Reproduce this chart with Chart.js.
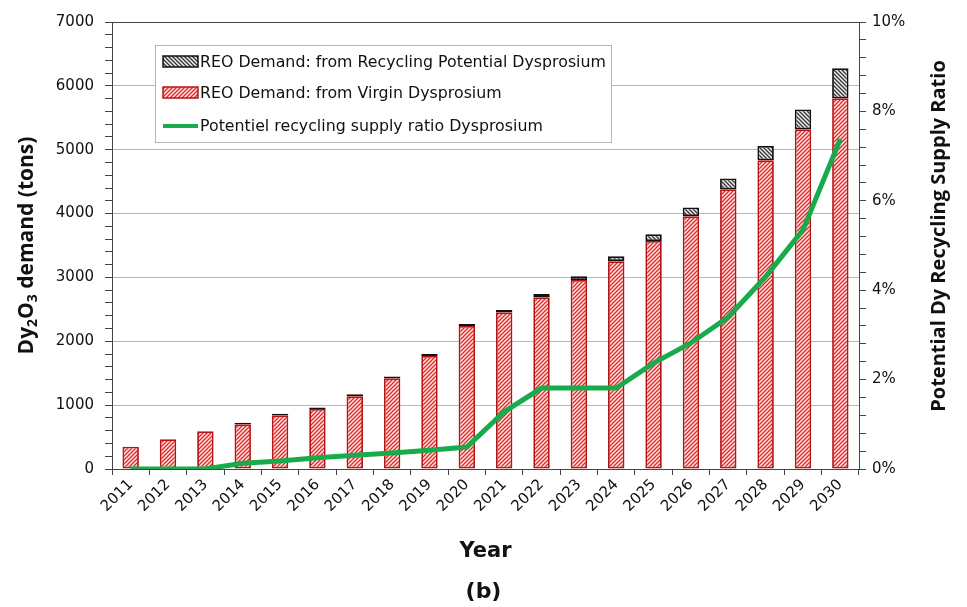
<!DOCTYPE html>
<html>
<head>
<meta charset="utf-8">
<script src="https://cdn.jsdelivr.net/npm/chart.js@4.4.1/dist/chart.umd.min.js"></script>
<style>
  html, body { margin: 0; padding: 0; background: #fff; }
  #wrap { width: 967px; height: 607px; position: relative; }
</style>
</head>
<body>
<div id="wrap"><canvas id="grafico" width="967" height="607"></canvas></div>
<script>
// -------------------------
// Dados
// -------------------------
const years = ["2011", "2012", "2013", "2014", "2015", "2016", "2017", "2018", "2019", "2020",
               "2021", "2022", "2023", "2024", "2025", "2026", "2027", "2028", "2029", "2030"];
const virginDemand = [350, 465, 590, 700, 840, 940, 1140, 1420, 1770, 2240,
                      2455, 2690, 2960, 3255, 3570, 3960, 4380, 4835, 5320, 5805];
const recyclingDemand = [0, 0, 0, 25, 25, 25, 30, 30, 30, 30,
                         35, 50, 60, 75, 105, 135, 170, 225, 310, 470];
const recyclingRatio = [0, 0, 0, 0.13, 0.18, 0.25, 0.31, 0.36, 0.42, 0.49,
                        1.28, 1.81, 1.81, 1.81, 2.37, 2.82, 3.4, 4.3, 5.35, 7.38];

const FONT = "'DejaVu Sans', Verdana, sans-serif";
const FONT_TITULO = "'Open Sans', 'DejaVu Sans', sans-serif";
const AXIS = "#444";

// -------------------------
// Hachuras
// -------------------------
function hachura(fundo, cor, barra) {
  const c = document.createElement("canvas");
  c.width = c.height = 4;
  const g = c.getContext("2d");
  g.fillStyle = fundo;
  g.fillRect(0, 0, 4, 4);
  g.strokeStyle = cor;
  g.lineWidth = 1.3;
  g.beginPath();
  if (barra) {
    g.moveTo(0, 4); g.lineTo(4, 0);
    g.moveTo(-1, 1); g.lineTo(1, -1);
    g.moveTo(3, 5); g.lineTo(5, 3);
  } else {
    g.moveTo(0, 0); g.lineTo(4, 4);
    g.moveTo(3, -1); g.lineTo(5, 1);
    g.moveTo(-1, 3); g.lineTo(1, 5);
  }
  g.stroke();
  return g.createPattern(c, "repeat");
}

const padraoVirgem = hachura("#fde6e6", "#e02828", true);
const padraoReciclagem = hachura("#eeeeee", "#333333", false);

// -------------------------
// Plugins: legenda e títulos
// -------------------------
const legendaPlugin = {
  id: "legendaCaixa",
  afterDatasetsDraw(chart) {
    const ctx = chart.ctx;
    const ds = chart.data.datasets;
    const itens = [ds[1], ds[0], ds[2]];
    const x = 155, y = 45, w = 456, h = 97;
    ctx.save();
    ctx.fillStyle = "#fff";
    ctx.fillRect(x, y, w, h);
    ctx.strokeStyle = "#b5b5b5";
    ctx.lineWidth = 1;
    ctx.strokeRect(x + 0.5, y + 0.5, w, h);
    ctx.font = "15.8px " + FONT;
    ctx.textBaseline = "middle";
    const linhas = [62, 93, 126];
    itens.forEach((d, i) => {
      const cy = linhas[i];
      if (d.type === "line") {
        ctx.strokeStyle = d.borderColor;
        ctx.lineWidth = 4;
        ctx.beginPath();
        ctx.moveTo(163, cy);
        ctx.lineTo(198, cy);
        ctx.stroke();
      } else {
        ctx.fillStyle = d.backgroundColor;
        ctx.fillRect(163, cy - 6, 35, 11);
        ctx.strokeStyle = d.borderColor;
        ctx.lineWidth = 1.5;
        ctx.strokeRect(163, cy - 6, 35, 11);
      }
      ctx.fillStyle = "#111";
      ctx.fillText(d.label, 200, cy + 1);
    });
    ctx.restore();
  }
};

const titulosPlugin = {
  id: "titulosEixos",
  afterDraw(chart) {
    const ctx = chart.ctx;
    const area = chart.chartArea;
    const cy = (area.top + area.bottom) / 2;
    ctx.save();
    ctx.fillStyle = "#111";
    ctx.textBaseline = "alphabetic";

    // título esquerdo com subscritos
    const partes = [["Dy", false], ["2", true], ["O", false], ["3", true], [" demand (tons)", false]];
    const grande = "bold 21px " + FONT_TITULO;
    const pequeno = "bold 14px " + FONT_TITULO;
    let total = 0;
    partes.forEach(p => { ctx.font = p[1] ? pequeno : grande; total += ctx.measureText(p[0]).width; });
    ctx.translate(33, cy);
    ctx.rotate(-Math.PI / 2);
    let px = -total / 2;
    partes.forEach(p => {
      ctx.font = p[1] ? pequeno : grande;
      ctx.fillText(p[0], px, p[1] ? 4 : 0);
      px += ctx.measureText(p[0]).width;
    });
    ctx.restore();

    // título direito
    ctx.save();
    ctx.fillStyle = "#111";
    ctx.font = "bold 20px " + FONT_TITULO;
    ctx.textAlign = "center";
    ctx.textBaseline = "alphabetic";
    ctx.translate(945, 236);
    ctx.rotate(-Math.PI / 2);
    ctx.fillText("Potential Dy Recycling Supply Ratio", 0, 0);
    ctx.restore();
  }
};

// -------------------------
// Gráfico
// -------------------------
const ctx = document.getElementById("grafico").getContext("2d");

new Chart(ctx, {
  type: "bar",
  data: {
    labels: years,
    datasets: [
      {
        label: "REO Demand: from Virgin Dysprosium",
        data: virginDemand,
        backgroundColor: padraoVirgem,
        borderColor: "#b41414",
        borderWidth: 1.8,
        borderSkipped: false,
        stack: "demanda",
        yAxisID: "y",
        order: 2
      },
      {
        label: "REO Demand: from Recycling Potential Dysprosium",
        data: recyclingDemand,
        backgroundColor: padraoReciclagem,
        borderColor: "#111",
        borderWidth: 1.8,
        borderSkipped: false,
        stack: "demanda",
        yAxisID: "y",
        order: 2
      },
      {
        type: "line",
        label: "Potentiel recycling supply ratio Dysprosium",
        data: recyclingRatio,
        borderColor: "#18ab4b",
        borderWidth: 5,
        pointRadius: 0,
        tension: 0,
        yAxisID: "y1",
        order: 1
      }
    ]
  },
  options: {
    responsive: false,
    animation: false,
    devicePixelRatio: 1,
    layout: { padding: { top: 22, left: 0, right: 0, bottom: 0 } },
    datasets: {
      bar: { barPercentage: 0.44, categoryPercentage: 1 }
    },
    plugins: {
      legend: { display: false },
      tooltip: { enabled: false },
      title: {
        display: true,
        position: "bottom",
        text: "(b)",
        color: "#111",
        font: { family: FONT, size: 22, weight: "bold" },
        padding: { top: 8, bottom: 2 }
      }
    },
    scales: {
      x: {
        stacked: true,
        grid: { drawOnChartArea: false, tickLength: 6, tickColor: AXIS, offset: true },
        border: { color: AXIS, width: 1 },
        ticks: {
          color: "#111",
          font: { family: FONT, size: 15 },
          minRotation: 45,
          maxRotation: 45,
          padding: 1
        },
        title: {
          display: true,
          text: "Year",
          color: "#111",
          font: { family: FONT, size: 21, weight: "bold" },
          padding: { top: 0, bottom: 6 }
        },
        afterFit(scale) { scale.height = 101.6; }
      },
      y: {
        stacked: true,
        min: 0,
        max: 7000,
        position: "left",
        border: { color: AXIS, width: 1 },
        grid: {
          color: c => c.tick.value === 7000 ? AXIS : (c.tick.value % 1000 === 0 ? "#b8b8b8" : "rgba(0,0,0,0)"),
          tickColor: AXIS,
          tickLength: 7
        },
        ticks: {
          stepSize: 200,
          autoSkip: false,
          color: "#111",
          font: { family: FONT, size: 15 },
          padding: 11,
          callback: v => (v % 1000 === 0 ? String(v) : "")
        },
        afterFit(scale) { scale.width = 112; }
      },
      y1: {
        min: 0,
        max: 10,
        position: "right",
        border: { color: AXIS, width: 1 },
        grid: { drawOnChartArea: false, tickColor: AXIS, tickLength: 7 },
        ticks: {
          stepSize: 0.4,
          autoSkip: false,
          color: "#111",
          font: { family: FONT, size: 15 },
          padding: 6,
          callback: v => (Math.round(v * 10) % 20 === 0 ? Math.round(v) + "%" : "")
        },
        afterFit(scale) { scale.width = 108; }
      }
    }
  },
  plugins: [legendaPlugin, titulosPlugin]
});
</script>
</body>
</html>
